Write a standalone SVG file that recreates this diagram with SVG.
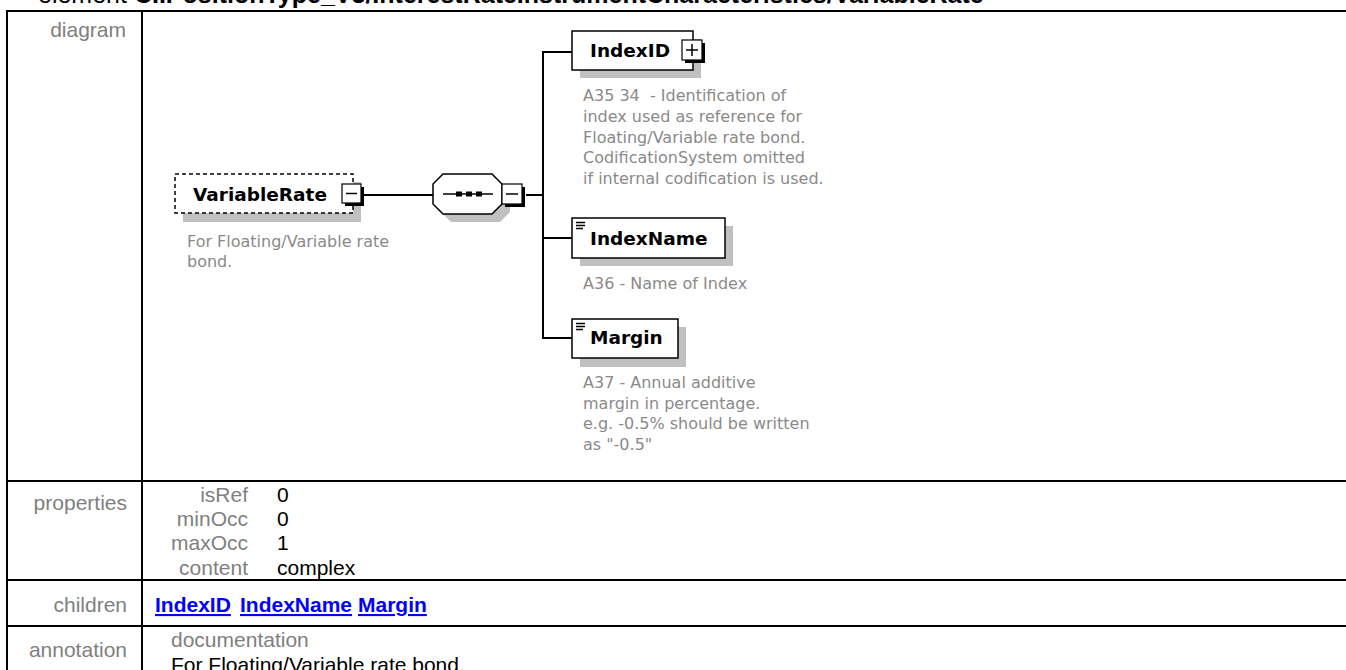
<svg xmlns="http://www.w3.org/2000/svg" width="1346" height="670" viewBox="0 0 1346 670">
<style>
.grid{stroke:#000;stroke-width:2;fill:none}
.lbl{font-family:"Liberation Sans",Arial,sans-serif;font-size:21px;fill:#808080}
.val{font-family:"Liberation Sans",Arial,sans-serif;font-size:21px;fill:#000}
.lnk{font-family:"Liberation Sans",Arial,sans-serif;font-size:21px;font-weight:bold;fill:#0000ff;text-decoration:underline}
.ttl{font-family:"Liberation Sans",Arial,sans-serif;font-size:25px;fill:#000}
.nm{font-family:"DejaVu Sans",Verdana,sans-serif;font-size:18.5px;font-weight:bold;fill:#000}
.desc{font-family:"DejaVu Sans",Verdana,sans-serif;font-size:16px;fill:#8a8a8a;white-space:pre}
.box{fill:#fff;stroke:#000;stroke-width:1.5}
.shadow{fill:#c0c0c0}
.btn{fill:#fff;stroke:#000;stroke-width:1.2}
.btnsh{fill:#000}
.ln{stroke:#000;stroke-width:1.5;fill:none}
.conn{stroke:#000;stroke-width:2;fill:none}
</style>

<g id="title">
<text class="ttl" x="38" y="3">element <tspan font-weight="bold">CIIPositionType_V3/InterestRateInstrumentCharacteristics/VariableRate</tspan></text>
</g>

<g id="table">
<line class="grid" x1="6" y1="11" x2="1346" y2="11"/>
<line class="grid" x1="7" y1="10" x2="7" y2="670"/>
<line class="grid" x1="142" y1="10" x2="142" y2="670"/>
<line class="grid" x1="6" y1="481" x2="1346" y2="481"/>
<line class="grid" x1="6" y1="580" x2="1346" y2="580"/>
<line class="grid" x1="6" y1="626" x2="1346" y2="626"/>
<text class="lbl" x="126" y="37" text-anchor="end">diagram</text>
<text class="lbl" x="127" y="510" text-anchor="end">properties</text>
<text class="lbl" x="248" y="502" text-anchor="end">isRef</text>
<text class="lbl" x="248" y="526" text-anchor="end">minOcc</text>
<text class="lbl" x="248" y="550" text-anchor="end">maxOcc</text>
<text class="lbl" x="248" y="575" text-anchor="end">content</text>
<text class="val" x="277" y="502">0</text>
<text class="val" x="277" y="526">0</text>
<text class="val" x="277" y="550">1</text>
<text class="val" x="277" y="575">complex</text>
<text class="lbl" x="127" y="612" text-anchor="end">children</text>
<text class="lnk" x="155" y="612">IndexID</text>
<text class="lnk" x="240" y="612">IndexName</text>
<text class="lnk" x="358" y="612">Margin</text>
<text class="lbl" x="127" y="657" text-anchor="end">annotation</text>
<text class="lbl" x="171" y="647">documentation</text>
<text class="val" x="171" y="672">For Floating/Variable rate bond.</text>
</g>

<g id="connectors">
<line class="conn" x1="363" y1="195" x2="433" y2="195"/>
<line class="conn" x1="526" y1="195" x2="543" y2="195"/>
<line class="conn" x1="543" y1="51" x2="543" y2="339"/>
<line class="conn" x1="542" y1="52" x2="572" y2="52"/>
<line class="conn" x1="542" y1="238" x2="572" y2="238"/>
<line class="conn" x1="542" y1="338" x2="572" y2="338"/>
</g>

<g id="node-VariableRate">
<rect class="shadow" x="183" y="182" width="178" height="40"/>
<rect x="175" y="174" width="178" height="39" fill="#fff" stroke="#000" stroke-width="1.5" stroke-dasharray="4,3"/>
<text class="nm" x="193" y="201">VariableRate</text>
<rect class="btnsh" x="345" y="187" width="19" height="19"/>
<rect class="btn" x="342" y="184" width="19" height="19"/>
<line class="ln" x1="346" y1="193.5" x2="357" y2="193.5"/>
<text class="desc" x="187" y="247">For Floating/Variable rate</text>
<text class="desc" x="187" y="267">bond.</text>
</g>

<g id="node-sequence">
<polygon class="shadow" points="451,182 500,182 510,192 510,212 500,222 451,222 441,212 441,192"/>
<polygon class="box" points="443,174 492,174 502,184 502,204 492,214 443,214 433,204 433,184"/>
<line class="ln" x1="443" y1="194" x2="493" y2="194"/>
<rect x="456" y="191.5" width="6" height="5" fill="#000"/>
<rect x="466" y="191.5" width="6" height="5" fill="#000"/>
<rect x="476" y="191.5" width="6" height="5" fill="#000"/>
<rect class="btnsh" x="505" y="187" width="20" height="20"/>
<rect class="btn" x="502" y="184" width="20" height="20"/>
<line class="ln" x1="506" y1="194" x2="518" y2="194"/>
</g>

<g id="node-IndexID">
<rect class="shadow" x="580" y="39" width="121" height="39"/>
<rect class="box" x="572" y="31" width="121" height="39"/>
<text class="nm" x="590" y="57">IndexID</text>
<rect class="btnsh" x="685" y="43" width="20" height="20"/>
<rect class="btn" x="682" y="40" width="20" height="20"/>
<line class="ln" x1="686" y1="50" x2="698" y2="50"/>
<line class="ln" x1="692" y1="44" x2="692" y2="56"/>
<text class="desc" x="583" y="101">A35 34  - Identification of</text>
<text class="desc" x="583" y="122">index used as reference for</text>
<text class="desc" x="583" y="143">Floating/Variable rate bond.</text>
<text class="desc" x="583" y="163">CodificationSystem omitted</text>
<text class="desc" x="583" y="184">if internal codification is used.</text>
</g>

<g id="node-IndexName">
<rect class="shadow" x="580" y="226" width="153" height="40"/>
<rect class="box" x="572" y="218" width="153" height="40"/>
<line class="ln" x1="576" y1="222.5" x2="585" y2="222.5" stroke-width="1"/>
<line class="ln" x1="576" y1="225.5" x2="585" y2="225.5" stroke-width="1"/>
<line class="ln" x1="576" y1="228.5" x2="583" y2="228.5" stroke-width="1"/>
<text class="nm" x="590" y="245">IndexName</text>
<text class="desc" x="583" y="289">A36 - Name of Index</text>
</g>

<g id="node-Margin">
<rect class="shadow" x="580" y="327" width="106" height="40"/>
<rect class="box" x="572" y="319" width="106" height="39"/>
<line class="ln" x1="576" y1="323.5" x2="585" y2="323.5" stroke-width="1"/>
<line class="ln" x1="576" y1="326.5" x2="585" y2="326.5" stroke-width="1"/>
<line class="ln" x1="576" y1="329.5" x2="583" y2="329.5" stroke-width="1"/>
<text class="nm" x="590" y="344">Margin</text>
<text class="desc" x="583" y="388">A37 - Annual additive</text>
<text class="desc" x="583" y="409">margin in percentage.</text>
<text class="desc" x="583" y="429">e.g. -0.5% should be written</text>
<text class="desc" x="583" y="450">as "-0.5"</text>
</g>
</svg>
